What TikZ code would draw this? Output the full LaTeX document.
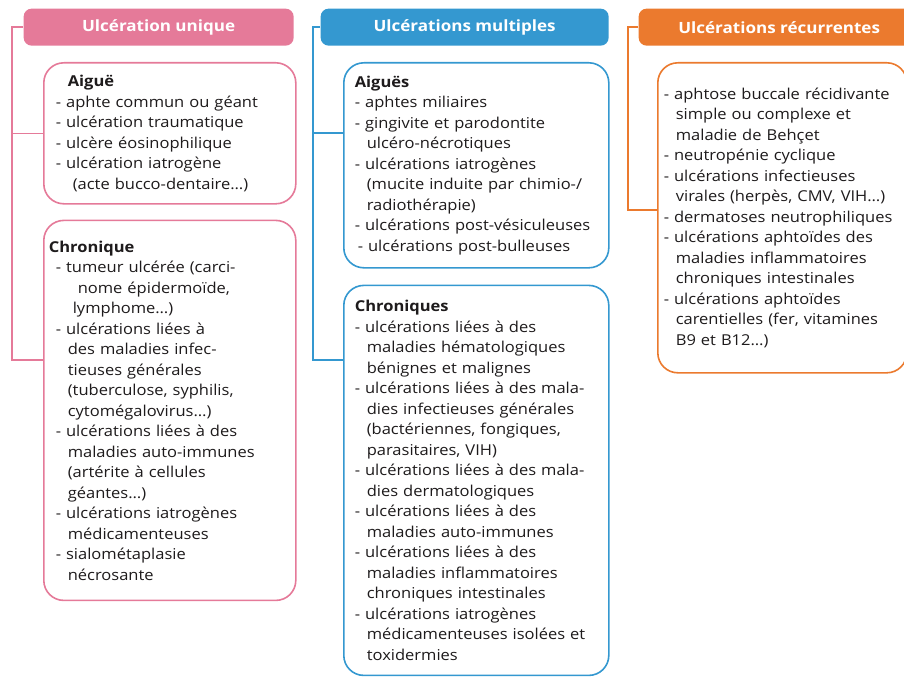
\documentclass[tikz,border=0pt]{standalone}
\usepackage{fontspec}
\setmainfont{Open Sans}[FakeStretch=1.1]
\usepackage{tikz}
\usetikzlibrary{positioning}
\definecolor{rose}{RGB}{229,122,153}
\definecolor{bleu}{RGB}{52,152,208}
\definecolor{orng}{RGB}{235,122,46}
\definecolor{encre}{RGB}{30,27,28}
\newcommand{\retrait}{\hspace*{12pt}}

\begin{document}
\begin{tikzpicture}[x=1pt, y=-1pt, line width=1.3pt, font=\fontsize{15}{20.5}\selectfont]
	\tikzstyle{head}=[rounded corners=8pt, text=white, font=\fontsize{15.5}{18}\selectfont\bfseries, minimum height=37pt, inner sep=0pt, anchor=north west]
	\tikzstyle{panel}=[draw, fill=white, rounded corners=20pt, line width=1.6pt, align=left, text=encre, inner ysep=0pt, anchor=north west]
	\clip (0,0) rectangle (904,677);
	\node[head, fill=rose, minimum width=270pt] (U) at (23,8) {Ulcération unique};
	\node[head, fill=bleu, minimum width=288pt] (M) at (320,8) {Ulcérations multiples};
	\node[head, fill=orng, minimum width=281pt] (R) at (638,8) {Ulcérations récurrentes};
	\node[panel, draw=rose, text width=228pt, inner xsep=12pt, minimum height=141pt] (Ua) at (43,62) {\retrait\textbf{Aiguë}\\
	- aphte commun ou géant\\
	- ulcération traumatique\\
	- ulcère éosinophilique\\
	- ulcération iatrogène\\
	\hspace*{17pt}(acte bucco-dentaire…)};
	\node[panel, draw=rose, text width=228pt, inner xsep=12pt, minimum height=380pt, below=15pt of Ua] (Uc) {\hspace*{-7pt}\textbf{Chronique}\\
	- tumeur ulcérée (carci-\\
	\hspace*{22pt}nome épidermoïde,\\
	\hspace*{17pt}lymphome…)\\
	- ulcérations liées à\\
	\retrait des maladies infec-\\
	\retrait tieuses générales\\
	\retrait (tuberculose, syphilis,\\
	\retrait cytomégalovirus…)\\
	- ulcérations liées à des\\
	\retrait maladies auto-immunes\\
	\retrait (artérite à cellules\\
	\retrait géantes…)\\
	- ulcérations iatrogènes\\
	\retrait médicamenteuses\\
	- sialométaplasie\\
	\retrait nécrosante};
	\node[panel, draw=bleu, text width=243pt, inner xsep=11pt, minimum height=205pt] (Ma) at (343,62) {\textbf{Aiguës}\\
	- aphtes miliaires\\
	- gingivite et parodontite\\
	\retrait ulcéro-nécrotiques\\
	- ulcérations iatrogènes\\
	\retrait (mucite induite par chimio-/\\
	\retrait radiothérapie)\\
	- ulcérations post-vésiculeuses\\
	\hspace*{3pt}- ulcérations post-bulleuses};
	\node[panel, draw=bleu, text width=243pt, inner xsep=11pt, minimum height=390pt, below=16pt of Ma] (Mc) {\textbf{Chroniques}\\
	- ulcérations liées à des\\
	\retrait maladies hématologiques\\
	\retrait bénignes et malignes\\
	- ulcérations liées à des mala-\\
	\retrait dies infectieuses générales\\
	\retrait (bactériennes, fongiques,\\
	\retrait parasitaires, VIH)\\
	- ulcérations liées à des mala-\\
	\retrait dies dermatologiques\\
	- ulcérations liées à des\\
	\retrait maladies auto-immunes\\
	- ulcérations liées à des\\
	\retrait maladies inflammatoires\\
	\retrait chroniques intestinales\\
	- ulcérations iatrogènes\\
	\retrait médicamenteuses isolées et\\
	\retrait toxidermies};
	\node[panel, draw=orng, text width=237pt, inner xsep=6pt, minimum height=310pt] (Rb) at (657,62) {- aphtose buccale récidivante\\
	\retrait simple ou complexe et\\
	\retrait maladie de Behçet\\
	- neutropénie cyclique\\
	- ulcérations infectieuses\\
	\retrait virales (herpès, CMV, VIH…)\\
	- dermatoses neutrophiliques\\
	- ulcérations aphtoïdes des\\
	\retrait maladies inflammatoires\\
	\retrait chroniques intestinales\\
	- ulcérations aphtoïdes\\
	\retrait carentielles (fer, vitamines\\
	\retrait B9 et B12…)};
	\coordinate (ub) at (12,360);
	\coordinate (ma) at (313,133);
	\coordinate (mb) at (313,360);
	\coordinate (rb) at (628,210);
	\draw[rose] (U.west) -| (ub) -- (ub -| Uc.west);
	\draw[rose] (Ua.west) -- (Ua.west -| ub);
	\draw[bleu] (M.west) -| (mb) -- (mb -| Mc.west);
	\draw[bleu] (ma) -- (ma -| Ma.west);
	\draw[orng] (R.west) -| (rb) -- (rb -| Rb.west);
\end{tikzpicture}
\end{document}
